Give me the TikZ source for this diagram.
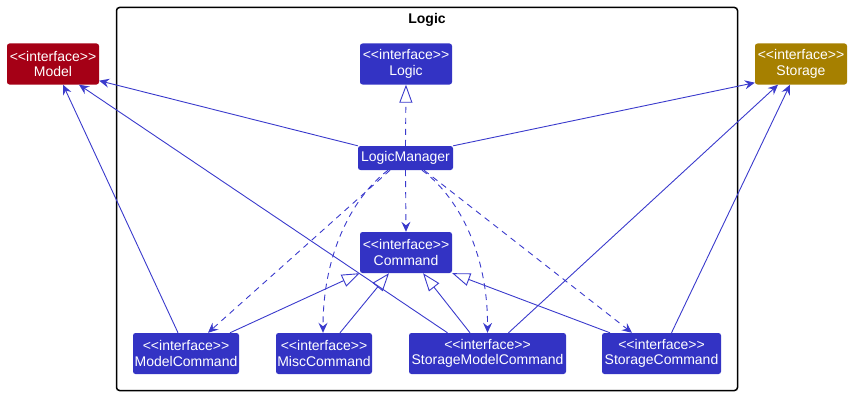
\documentclass[tikz,border=0pt]{standalone}
\usepackage{fontspec}
\newfontfamily\uifont{Liberation Sans}
\usetikzlibrary{arrows.meta}

\definecolor{ifblue}{HTML}{3333C4}
\definecolor{linkblue}{HTML}{3A3ACC}
\definecolor{modelred}{HTML}{A50016}
\definecolor{storegold}{HTML}{A68000}

\tikzset{
  plainbox/.style={rectangle, rounded corners=2.5pt, fill=ifblue, text=white,
    font=\uifont\fontsize{14}{15.5}\selectfont, align=center,
    inner sep=0pt},
  % a tall strut on the first line drops the two text lines slightly
  box/.style={plainbox, minimum height=41pt,
    execute at begin node={\rule{0pt}{14pt}}},
  link/.style={draw=linkblue, line width=0.9pt},
  uses/.style={link, -{Stealth[length=10pt,width=9pt,inset=3.5pt]}},
  depends/.style={uses, dash pattern=on 6pt off 5pt},
  realizes/.style={link, -{Triangle[length=18pt,width=13pt,fill=white]}},
  implements/.style={realizes, dash pattern=on 6pt off 5pt},
}

\begin{document}
\begin{tikzpicture}[x=1pt, y=-1pt]
  \useasboundingbox (0,0) rectangle (853,396);

  % package frame
  \node[draw=black, line width=1.5pt, rounded corners=3pt, inner sep=0pt,
        minimum width=621pt, minimum height=383pt] (pkg) at (427,199) {};
  \node[font=\uifont\bfseries\fontsize{14}{16}\selectfont, inner sep=0pt] (pkgtitle) at (427,19.5) {Logic};

  % interfaces outside the package
  \node[box, fill=modelred, minimum width=92pt] (model) at (53,64) {<<interface>>\\Model};
  \node[box, fill=storegold, minimum width=92pt] (storage) at (801,64) {<<interface>>\\Storage};

  % package contents
  \node[box, minimum width=92pt] (logic) at (406,64) {<<interface>>\\Logic};
  \node[plainbox, minimum width=95pt, minimum height=24pt] (lm) at (405.5,158) {LogicManager};
  \node[box, minimum width=92pt] (cmd) at (406,252.5) {<<interface>>\\Command};
  \node[box, minimum width=106pt] (mc) at (186,353.5) {<<interface>>\\ModelCommand};
  \node[box, minimum width=96pt] (misc) at (324,353.5) {<<interface>>\\MiscCommand};
  \node[box, minimum width=157pt] (smc) at (487.5,353.5) {<<interface>>\\StorageModelCommand};
  \node[box, minimum width=119pt] (sc) at (661.5,353.5) {<<interface>>\\StorageCommand};

  % LogicManager
  \draw[implements] (lm.north) -- (logic.south);
  \draw[uses] (lm.north west) -- ([yshift=4pt]model.south east);
  \draw[uses] (lm.north east) -- ([yshift=2pt]storage.south west);
  \draw[depends] (lm.south) -- (cmd.north);
  \draw[depends] ([xshift=-15.5pt]lm.south) -- ([xshift=22pt]mc.north);
  \draw[depends] ([xshift=-17.5pt]lm.south) .. controls (355,195) and (323,250) .. ([xshift=-1pt]misc.north);
  \draw[depends] ([xshift=16.5pt]lm.south) .. controls (456,195) and (488,250) .. (smc.north);
  \draw[depends] ([xshift=18.5pt]lm.south) -- ([xshift=-29.5pt]sc.north);

  % command hierarchy
  \draw[realizes] ([xshift=44pt]mc.north) -- (cmd.south west);
  \draw[realizes] ([xshift=16pt]misc.north) -- ([xshift=-17pt]cmd.south);
  \draw[realizes] ([xshift=-17.5pt]smc.north) -- ([xshift=17pt]cmd.south);
  \draw[realizes] ([xshift=-51.5pt]sc.north) -- (cmd.south east);

  % commands using Model and Storage
  \draw[uses] ([xshift=-8pt]mc.north) -- ([xshift=10pt]model.south);
  \draw[uses] ([xshift=-40pt]smc.north) -- ([xshift=26pt]model.south);
  \draw[uses] ([xshift=21pt]smc.north) -- ([xshift=-23pt]storage.south);
  \draw[uses] ([xshift=10pt]sc.north) -- ([xshift=-11pt]storage.south);
\end{tikzpicture}
\end{document}
